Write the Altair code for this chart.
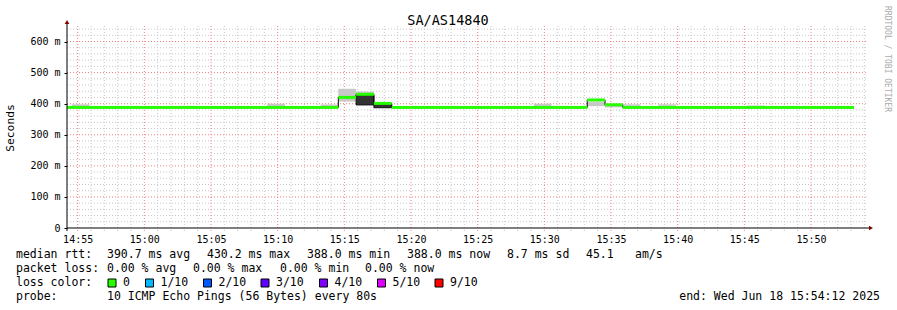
import altair as alt
import pandas as pd

# ---------------- data ----------------
START = pd.Timestamp("2025-06-18 14:54:12", tz="UTC")
START_MS = int(START.value // 10**6)
END_MS = START_MS + 3600 * 1000
STEP_S = 80
FIRST_STEP_S = -59  # first 80 s step begins 59 s before graph start

# median rtt per 80 s step (ms)
median = [388, 388, 388, 388, 388, 388, 388, 388, 388, 388,
          388, 388, 388, 388, 388, 388, 420.3, 430.2, 401, 388,
          388, 388, 388, 388, 388, 388, 388, 388, 388, 388,
          412, 396.5, 388, 388, 388, 388, 388, 388, 388, 388,
          388, 388, 388, 388, 388]
# light smoke band per step
smoke_lo = [386, 386, 386, 386, 386, 386, 386, 387, 386, 386,
            386, 386, 388, 386, 386, 388, 407, 396, 387, 386,
            386, 386, 386, 386, 386, 386, 386, 388, 388, 386,
            392, 388, 393, 386, 393, 386, 386, 386, 386, 388,
            386, 386, 386, 386, 386]
smoke_hi = [390, 398, 390, 390, 390, 390, 390, 393, 390, 390,
            390, 390, 400, 390, 390, 397, 448, 439, 399, 390,
            390, 390, 390, 390, 390, 390, 390, 400, 393, 390,
            406, 395, 398, 390, 398, 390, 390, 390, 390, 394,
            390, 390, 390, 390, 390]
# dark (dense) smoke
dark_steps = [17, 18]
dark_lo = [396, 387]
dark_hi = [427, 399]

y_ticks = [0, 100, 200, 300, 400, 500, 600]
x_tick_times = ["14:55", "15:00", "15:05", "15:10", "15:15", "15:20",
                "15:25", "15:30", "15:35", "15:40", "15:45", "15:50"]

title_text = "SA/AS14840"
rtt_parts = ["median rtt:", "390.7 ms avg", "430.2 ms max", "388.0 ms min",
             "388.0 ms now", "8.7 ms sd", "45.1", "am/s"]
loss_parts = ["packet loss:", "0.00 % avg", "0.00 % max", "0.00 % min", "0.00 % now"]
loss_labels = ["0", "1/10", "2/10", "3/10", "4/10", "5/10", "9/10"]
loss_colors = ["#26ff00", "#00b8ff", "#0059ff", "#5e00ff", "#7e00ff", "#dd00ff", "#ff0000"]
probe_text = "10 ICMP Echo Pings (56 Bytes) every 80s"
end_text = "end: Wed Jun 18 15:54:12 2025"

# ---------------- tables ----------------
rows = []
for k, m in enumerate(median):
    t0 = START_MS + (FIRST_STEP_S + STEP_S * k) * 1000
    t1 = t0 + STEP_S * 1000
    rows.append(dict(k=k, t0=max(t0, START_MS), t1=t1, med=m,
                     lo=smoke_lo[k], hi=smoke_hi[k]))
steps = pd.DataFrame(rows)
dark = pd.DataFrame(dict(k=dark_steps, lo=dark_lo, hi=dark_hi)).merge(steps[["k", "t0", "t1"]], on="k")
line_df = pd.concat([steps[["t0", "med"]],
                     pd.DataFrame(dict(t0=[steps.t1.iloc[-1]], med=[median[-1]]))])

day = "2025-06-18 "
x_tick_vals = [int(pd.Timestamp(day + t, tz="UTC").value // 10**6) for t in x_tick_times]
minute_vals = [int(pd.Timestamp(day + "14:55", tz="UTC").value // 10**6) + i * 60000 for i in range(60)]
grid_x = pd.DataFrame(dict(t=minute_vals, major=[(i % 5 == 0) for i in range(60)]))
grid_y = pd.DataFrame(dict(v=list(range(20, 660, 20))))
grid_y["major"] = grid_y.v % 100 == 0

# ---------------- layout ----------------
PL, PT, W, H = 67, 26, 800, 202
MONO = "DejaVu Sans Mono"
xs = alt.Scale(domain=[START_MS, END_MS], nice=False, zero=False)
ys = alt.Scale(domain=[0, 650], nice=False, zero=True)
dummy = pd.DataFrame({"a": [0]})

NB = "\u00a0"
x_axis = alt.Axis(values=x_tick_vals, labelExpr="utcFormat(datum.value, '%H:%M')",
                  grid=False, ticks=False, domain=False, title=None,
                  labelFont=MONO, labelFontSize=10, labelColor="black",
                  labelPadding=6, labelFlush=False, labelOverlap=False)
y_axis = alt.Axis(values=y_ticks,
                  labelExpr="datum.value == 0 ? '0" + NB + NB + "' : datum.value + ' m'",
                  grid=False, ticks=True, tickSize=3, tickColor="black", domain=False,
                  title=None, labelFont=MONO, labelFontSize=10, labelColor="black",
                  labelPadding=4)


def X(f):
    return alt.X(f, scale=xs, axis=x_axis)


def Y(f):
    return alt.Y(f, scale=ys, axis=y_axis)


minor_gx = alt.Chart(grid_x).transform_filter("!datum.major").mark_rule(
    color="#c8c8c8", strokeDash=[1, 2], strokeWidth=1).encode(
    x=X("t:Q"), y=alt.value(0), y2=alt.value(H + 3))
major_gx = alt.Chart(grid_x).transform_filter("datum.major").mark_rule(
    color="#f08080", strokeDash=[1, 2], strokeWidth=1).encode(
    x=X("t:Q"), y=alt.value(0), y2=alt.value(H + 3))
minor_gy = alt.Chart(grid_y).transform_filter("!datum.major").mark_rule(
    color="#c8c8c8", strokeDash=[1, 2], strokeWidth=1).encode(
    y=Y("v:Q"), x=alt.value(0), x2=alt.value(W + 1))
major_gy = alt.Chart(grid_y).transform_filter("datum.major").mark_rule(
    color="#f08080", strokeDash=[1, 2], strokeWidth=1).encode(
    y=Y("v:Q"), x=alt.value(0), x2=alt.value(W + 1))

smoke = alt.Chart(steps).mark_rect(color="#c8c8c8").encode(
    x=X("t0:Q"), x2="t1:Q", y=Y("lo:Q"), y2="hi:Q")
dark_smoke = alt.Chart(dark).mark_rect(color="#333333", stroke="#111111", strokeWidth=1).encode(
    x=X("t0:Q"), x2="t1:Q", y=Y("lo:Q"), y2="hi:Q")
med_line = alt.Chart(line_df).mark_line(color="black", strokeWidth=1, interpolate="step-after").encode(
    x=X("t0:Q"), y=Y("med:Q"))
green = alt.Chart(steps).mark_rule(color="#26ff00", strokeWidth=3).encode(
    x=X("t0:Q"), x2="t1:Q", y=Y("med:Q"))

x_domain = alt.Chart(dummy).mark_rule(color="black").encode(
    x=alt.value(0), x2=alt.value(W + 4), y=alt.value(H))
y_domain = alt.Chart(dummy).mark_rule(color="black").encode(
    x=alt.value(0), y=alt.value(-3), y2=alt.value(H + 3))
arrow_up = alt.Chart(dummy).mark_point(shape="triangle-up", filled=True, size=22,
                                       color="#800000", opacity=1).encode(
    x=alt.value(0), y=alt.value(-4))
arrow_right = alt.Chart(dummy).mark_point(shape="triangle-right", filled=True, size=22,
                                          color="#800000", opacity=1).encode(
    x=alt.value(W + 4), y=alt.value(H))


def txt(s, x, y, size=11.5, align="left", baseline="alphabetic", angle=0, color="black"):
    return alt.Chart(dummy).mark_text(font=MONO, fontSize=size, align=align,
                                      baseline=baseline, angle=angle, color=color).encode(
        x=alt.value(x - PL), y=alt.value(y - PT), text=alt.value(s))


texts = [
    txt(title_text, 448, 25, size=13.5, align="center"),
    txt("Seconds", 11, 128, size=11.3, align="center", baseline="middle", angle=270),
    txt("RRDTOOL / TOBI OETIKER", 887, 59, size=8, align="center", baseline="middle",
        angle=90, color="#aaaaaa"),
]
rtt_x = [16, 107, 207, 307, 407, 507, 586, 635]
for s, x in zip(rtt_parts, rtt_x):
    texts.append(txt(s, x, 258))
loss_x = [16, 107, 193, 280, 365]
for s, x in zip(loss_parts, loss_x):
    texts.append(txt(s, x, 272))
texts.append(txt("loss color:", 16, 286))
box_x = [108, 145.5, 203.5, 261, 319.5, 377.5, 435]
for s, c, x in zip(loss_labels, loss_colors, box_x):
    texts.append(alt.Chart(dummy).mark_rect(color=c, stroke="black", strokeWidth=1).encode(
        x=alt.value(x - PL), x2=alt.value(x + 8 - PL),
        y=alt.value(279 - PT), y2=alt.value(287 - PT)))
    texts.append(txt(s, x + 15, 286))
texts.append(txt("probe:", 16, 300))
texts.append(txt(probe_text, 107, 300))
texts.append(txt(end_text, 880, 300, align="right"))

chart = alt.layer(minor_gx, minor_gy, major_gx, major_gy, smoke, dark_smoke, med_line, green,
                  x_domain, y_domain, arrow_up, arrow_right, *texts).properties(
    width=W, height=H, autosize="none",
    padding={"left": PL, "top": PT, "right": 897 - PL - W, "bottom": 310 - PT - H},
    background="white",
).configure_view(stroke=None)

chart.save("out.html", embed_options={"renderer": "svg", "actions": False})
